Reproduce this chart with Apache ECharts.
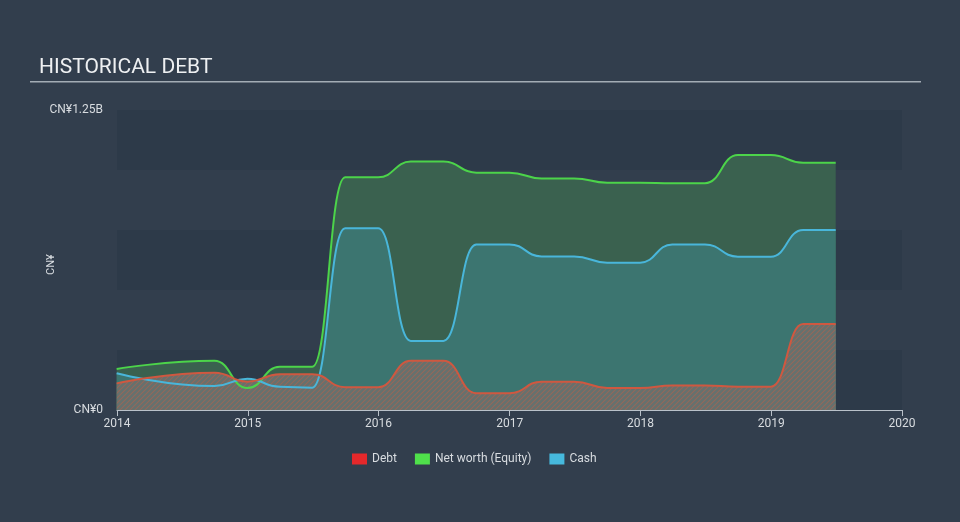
<!DOCTYPE html>
<html>
<head>
<meta charset="utf-8">
<script src="https://cdn.jsdelivr.net/npm/echarts@6/dist/echarts.min.js"></script>
<style>
html,body{margin:0;padding:0;background:#323e4d;}
#c{width:960px;height:522px;}
</style>
</head>
<body>
<div id="c"></div>
<script>
const dates = ['2013-12-31','2014-03-31','2014-06-30','2014-09-30','2014-12-31','2015-03-31','2015-06-30','2015-09-30','2015-12-31','2016-03-31','2016-06-30','2016-09-30','2016-12-31','2017-03-31','2017-06-30','2017-09-30','2017-12-31','2018-03-31','2018-06-30','2018-09-30','2018-12-31','2019-03-31','2019-06-30'];
// values in CN¥ billions (null = no reported point)
const netWorth = [0.171,null,null,0.205,0.092,0.18,0.18,0.97,0.97,1.035,1.035,0.989,0.989,0.965,0.965,0.947,0.947,0.945,0.945,1.062,1.062,1.03,1.03];
const cash = [0.153,null,null,0.10,0.13,0.097,0.093,0.757,0.757,0.288,0.288,0.69,0.69,0.64,0.64,0.614,0.614,0.69,0.69,0.639,0.639,0.75,0.75];
const debt = [0.111,null,null,0.155,0.118,0.149,0.149,0.095,0.095,0.205,0.205,0.07,0.07,0.118,0.118,0.092,0.092,0.102,0.102,0.097,0.097,0.358,0.358];
const yearTicks = ['2014','2015','2016','2017','2018','2019','2020'];

function pair(arr){ return dates.map((d,i)=>[d, arr[i]]).filter(p => p[1] !== null); }

const pc = document.createElement('canvas');
pc.width = 5; pc.height = 5;
const g = pc.getContext('2d');
g.fillStyle = '#65716e';
g.fillRect(0,0,5,5);
g.strokeStyle = '#93685b';
g.lineWidth = 1.1;
g.beginPath();
g.moveTo(0,5); g.lineTo(5,0);
g.moveTo(-2.5,2.5); g.lineTo(2.5,-2.5);
g.moveTo(2.5,7.5); g.lineTo(7.5,2.5);
g.stroke();

const chart = echarts.init(document.getElementById('c'), null, {renderer:'canvas'});
const option = {
  useUTC: true,
  backgroundColor: '#323e4d',
  animation: false,
  textStyle: {fontFamily: 'Roboto'},
  graphic: [
    {type:'text', left:39, top:57, style:{text:'HISTORICAL DEBT', fill:'#eef0f2', font:'21px Roboto'}},
    {type:'rect', shape:{x:30, y:81, width:891, height:1.5}, style:{fill:'#a3acb5'}},
    {type:'text', x:46, y:275, rotation:Math.PI/2, style:{text:'CN¥', fill:'#d8dce0', font:'11px Roboto'}}
  ],
  grid: {left:117, right:58, top:110, bottom:112},
  legend: {
    bottom: 52, left: 347,
    icon: 'rect', itemWidth: 15, itemHeight: 11, itemGap: 18,
    textStyle: {color:'#d8dce0', fontSize:12},
    data: [
      {name:'Debt', itemStyle:{color:'#e5282b'}},
      {name:'Net worth (Equity)', itemStyle:{color:'#4fe04b'}},
      {name:'Cash', itemStyle:{color:'#46b9dd'}}
    ]
  },
  xAxis: {
    type: 'time',
    min: '2014-01-01', max: '2020-01-01',
    minInterval: 365*24*3600*1000, maxInterval: 366*24*3600*1000,
    axisLine: {show:true, lineStyle:{color:'#b9c1c9', width:1}},
    axisTick: {show:true, length:6, lineStyle:{color:'#b9c1c9'}},
    splitLine: {show:false},
    axisLabel: {color:'#d8dce0', fontSize:12, margin:8, formatter: v => {
      const y = String(new Date(v).getUTCFullYear());
      return yearTicks.includes(y) ? y : '';
    }, showMinLabel:true, showMaxLabel:true}
  },
  yAxis: {
    type: 'value', min: 0, max: 1.25, interval: 0.25,
    axisLine: {show:false}, axisTick: {show:false},
    splitLine: {show:false},
    splitArea: {show:true, areaStyle:{color:['#2d3a49','#323e4d']}},
    axisLabel: {color:'#d8dce0', fontSize:12, margin:14, formatter: v => v===0 ? 'CN¥0' : (Math.abs(v-1.25)<1e-9 ? 'CN¥1.25B' : '')}
  },
  series: [
    {name:'Net worth (Equity)', type:'line', data: pair(netWorth), smooth:0.5, smoothMonotone:'x', showSymbol:false,
     lineStyle:{color:'#4cd44a', width:2}, itemStyle:{color:'#4fe04b'}, areaStyle:{color:'#3a614f', opacity:1}},
    {name:'Cash', type:'line', data: pair(cash), smooth:0.5, smoothMonotone:'x', showSymbol:false,
     lineStyle:{color:'#49b6da', width:2}, itemStyle:{color:'#46b9dd'}, areaStyle:{color:'#3c7570', opacity:1}},
    {name:'Debt', type:'line', data: pair(debt), smooth:0.5, smoothMonotone:'x', showSymbol:false,
     lineStyle:{color:'#cf5840', width:2}, itemStyle:{color:'#e5282b'}, areaStyle:{color:{image:pc, repeat:'repeat'}, opacity:1}}
  ]
};
chart.setOption(option);
</script>
</body>
</html>
